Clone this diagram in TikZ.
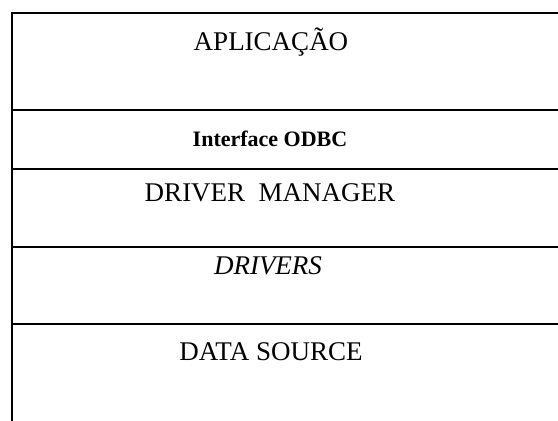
\documentclass[tikz,border=0pt]{standalone}
\usepackage{fontspec}
\setmainfont{Liberation Serif}
\begin{document}
\begin{tikzpicture}[x=1pt,y=-1pt,
  layer/.style={line width=2pt,black},
  label/.style={anchor=center,inner sep=0pt,font=\fontsize{27}{30}\selectfont},
  small/.style={anchor=center,inner sep=0pt,font=\fontsize{22}{26}\selectfont\bfseries}]
  \useasboundingbox (0,0) rectangle (558,421);
  % outer frame: top edge and left edge, open on the right and bottom
  \draw[layer] (558,13) -- (12,13) -- (12,421);
  % layer separators
  \draw[layer] (12,110) -- (558,110);
  \draw[layer] (12,169) -- (558,169);
  \draw[layer] (12,247) -- (558,247);
  \draw[layer] (12,324) -- (558,324);
  % layer names
  \node[label] (app) at (271,42) {APLICAÇÃO};
  \node[small] (odbc) at (270,139) {Interface ODBC};
  \node[label] (dm) at (270,193) {DRIVER\ \ MANAGER};
  \node[label] (drv) at (268,266) {\itshape DRIVERS};
  \node[label] (ds) at (271,352) {DATA SOURCE};
\end{tikzpicture}
\end{document}
